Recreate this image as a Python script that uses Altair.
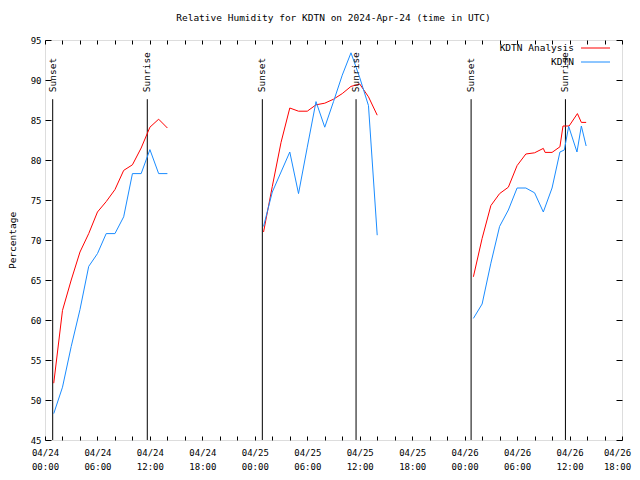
import altair as alt
import pandas as pd

# ---------------- data ----------------
START = pd.Timestamp("2024-04-24T00:00:00Z")

series_names = ["KDTN Analysis", "KDTN"]
series_colors = ["#ff0000", "#1a8cff"]

# hours after 2024-04-24 00:00 UTC
an_hours_1 = [1, 2, 3, 4, 5, 6, 7, 8, 9, 10, 11, 12, 13, 14]
an_vals_1 = [52.1, 61.2, 65.0, 68.5, 70.8, 73.5, 74.8, 76.3, 78.7, 79.4, 81.5, 84.1, 85.1, 84.0]
ob_hours_1 = [1, 2, 3, 4, 5, 6, 7, 8, 9, 10, 11, 12, 13, 14]
ob_vals_1 = [48.3, 51.6, 56.7, 61.3, 66.7, 68.3, 70.8, 70.8, 72.9, 78.3, 78.3, 81.3, 78.3, 78.3]

an_hours_2 = [25, 26, 27, 28, 29, 30, 31, 32, 33, 34, 35, 36, 37, 38]
an_vals_2 = [71.0, 76.7, 82.2, 86.5, 86.1, 86.1, 86.9, 87.1, 87.6, 88.3, 89.2, 89.5, 87.9, 85.6]
ob_hours_2 = [25, 26, 27, 28, 29, 30, 31, 32, 33, 34, 35, 36, 37, 38]
ob_vals_2 = [71.7, 76.0, 78.5, 81.0, 75.8, 81.6, 87.3, 84.1, 87.3, 90.6, 93.4, 90.3, 86.8, 70.6]

an_hours_3 = [49, 50, 51, 52, 53, 54, 55, 56, 57, 57.2, 58, 58.9, 59.25, 59.95, 60.9, 61.35, 61.9]
an_vals_3 = [65.4, 70.2, 74.3, 75.8, 76.6, 79.3, 80.75, 80.9, 81.45, 80.95, 80.95, 81.65, 84.25, 84.25, 85.8, 84.7, 84.7]
ob_hours_3 = [49, 50, 51, 52, 53, 54, 55, 56, 57, 58, 58.9, 59.4, 59.9, 60.85, 61.35, 61.9]
ob_vals_3 = [60.2, 62.0, 67.1, 71.7, 73.75, 76.5, 76.5, 75.9, 73.5, 76.5, 81.0, 81.25, 84.2, 81.0, 84.25, 81.75]

sun_hours = [0.88, 11.70, 24.86, 35.58, 48.74, 59.53]
sun_labels = ["Sunset", "Sunrise", "Sunset", "Sunrise", "Sunset", "Sunrise"]
sun_line_top = 87.6

y_ticks = [45, 50, 55, 60, 65, 70, 75, 80, 85, 90, 95]

FONT = "DejaVu Sans Mono"


def iso(h):
    return (START + pd.Timedelta(hours=h)).strftime("%Y-%m-%dT%H:%M:%SZ")


rows = []
segments = [
    (series_names[0], 1, an_hours_1, an_vals_1),
    (series_names[1], 1, ob_hours_1, ob_vals_1),
    (series_names[0], 2, an_hours_2, an_vals_2),
    (series_names[1], 2, ob_hours_2, ob_vals_2),
    (series_names[0], 3, an_hours_3, an_vals_3),
    (series_names[1], 3, ob_hours_3, ob_vals_3),
]
for name, seg, hrs, vals in segments:
    for h, v in zip(hrs, vals):
        rows.append({"time": iso(h), "value": v, "series": name, "seg": f"{name}-{seg}"})
df = pd.DataFrame(rows)

sun_df = pd.DataFrame({
    "time": [iso(h) for h in sun_hours],
    "label": sun_labels,
    "top": [sun_line_top] * len(sun_hours),
    "bottom": [45] * len(sun_hours),
})


def dt(h):
    t = START + pd.Timedelta(hours=h)
    return alt.DateTime(year=t.year, month=t.month, date=t.day, hours=t.hour, utc=True)


x_domain = [dt(0), dt(66)]
x_tick_values = [dt(h) for h in range(0, 67, 2)]

label_expr = ("utchours(datum.value) % 6 == 0 ? "
              "[utcFormat(datum.value, '%m/%d'), utcFormat(datum.value, '%H:%M')] : ''")
last_tick_test = "utcdate(datum.value) == 26 && utchours(datum.value) == 18"

x_scale = alt.Scale(type="utc", domain=x_domain, nice=False)
y_scale = alt.Scale(domain=[45, 95], nice=False, zero=False)

bottom_axis = alt.Axis(
    orient="bottom", values=x_tick_values, labelExpr=label_expr, tickSize=4, offset=-4,
    domain=False, grid=False, labelPadding=8, labelFont=FONT, labelFontSize=9,
    labelLineHeight=14, labelAngle=0, labelOverlap=False, labelFlush=False,
    labelOffset={"condition": {"test": last_tick_test, "value": -5}, "value": 0},
    labelColor="black", tickColor="black", title=None,
)
top_axis = alt.Axis(
    orient="top", values=x_tick_values, labels=False, tickSize=4, offset=-4,
    domain=False, grid=False, tickColor="black", title=None,
)
left_axis = alt.Axis(
    orient="left", values=y_ticks, tickSize=6, offset=-6, domain=False, grid=False,
    labelPadding=4, labelFont=FONT, labelFontSize=9, labelColor="black", tickColor="black",
    title="Percentage", titleFont=FONT, titleFontSize=9.5, titleFontWeight="normal",
    titleColor="black", titlePadding=13,
)
right_axis = alt.Axis(
    orient="right", values=y_ticks, labels=False, tickSize=6, offset=-6, domain=False,
    grid=False, tickColor="black", title=None,
)

lines = alt.Chart(df).mark_line(strokeWidth=1).encode(
    x=alt.X("time:T", scale=x_scale, axis=bottom_axis),
    y=alt.Y("value:Q", scale=y_scale, axis=left_axis),
    color=alt.Color("series:N", scale=alt.Scale(domain=series_names, range=series_colors), legend=None),
    detail="seg:N",
    order=alt.Order("time:T"),
)

sun_rules = alt.Chart(sun_df).mark_rule(color="black", strokeWidth=1).encode(
    x=alt.X("time:T", scale=x_scale, axis=top_axis),
    y=alt.Y("top:Q", scale=y_scale, axis=right_axis),
    y2="bottom:Q",
)

sun_text = alt.Chart(sun_df).mark_text(
    angle=270, align="left", baseline="middle", font=FONT, fontSize=9.5, color="black", dx=7
).encode(
    x=alt.X("time:T", scale=x_scale, axis=None),
    y=alt.Y("top:Q", scale=y_scale, axis=None),
    text="label:N",
)

legend_layers = []
for i, (name, col) in enumerate(zip(series_names, series_colors)):
    ld = alt.Data(values=[{"label": name}])
    yy = 8 + 14 * i
    legend_layers.append(
        alt.Chart(ld).mark_text(align="right", baseline="middle", font=FONT, fontSize=9.5, color="black")
        .encode(x=alt.value(529), y=alt.value(yy), text="label:N")
    )
    legend_layers.append(
        alt.Chart(ld).mark_rule(color=col, strokeWidth=1)
        .encode(x=alt.value(536), x2=alt.value(565), y=alt.value(yy))
    )

chart = alt.layer(sun_rules, lines, sun_text, *legend_layers).resolve_axis(
    x="independent", y="independent"
).properties(
    width=577,
    height=400,
    autosize=alt.AutoSizeParams(type="none"),
    padding={"left": 37, "top": 32, "right": 10, "bottom": 30},
    title=alt.TitleParams(
        "Relative Humidity for KDTN on 2024-Apr-24 (time in UTC)",
        font=FONT, fontSize=9.5, fontWeight="normal", color="black", offset=14, anchor="middle",
    ),
).configure_view(stroke="black", strokeWidth=1).configure(background="white")

chart.save("out.html", embed_options={"renderer": "svg", "actions": False})
